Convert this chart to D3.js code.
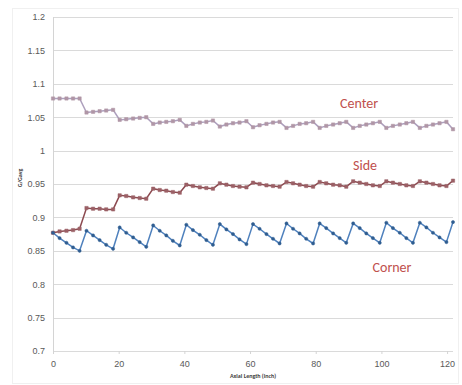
<!DOCTYPE html>
<html>
<head>
<meta charset="utf-8">
<script src="https://cdn.jsdelivr.net/npm/d3@7"></script>
<style>
  body { margin: 0; background: #fff; }
  svg { font-family: Calibri, Carlito, "Liberation Sans", Arial, sans-serif; }
</style>
</head>
<body>
<svg id="chart" width="462" height="385"></svg>
<script>
// axial positions (inch)
const axialLength = [0, 2, 4.1, 6.1, 8.1, 10.2, 12.2, 14.2, 16.2, 18.3,
  20.3, 22.3, 24.4, 26.4, 28.4, 30.5, 32.5, 34.5, 36.5, 38.6,
  40.6, 42.6, 44.7, 46.7, 48.7, 50.8, 52.8, 54.8, 56.8, 58.9,
  60.9, 62.9, 65, 67, 69, 71.1, 73.1, 75.1, 77.1, 79.2,
  81.2, 83.2, 85.3, 87.3, 89.3, 91.4, 93.4, 95.4, 97.4, 99.5,
  101.5, 103.5, 105.6, 107.6, 109.6, 111.7, 113.7, 115.7, 117.7, 119.8, 121.8];

const centerVals = [1.078, 1.078, 1.078, 1.078, 1.078,
  1.057, 1.058, 1.059, 1.060, 1.061,
  1.046, 1.047, 1.048, 1.049, 1.050,
  1.040, 1.042, 1.043, 1.044, 1.046,
  1.037, 1.040, 1.042, 1.043, 1.045,
  1.036, 1.039, 1.041, 1.042, 1.044,
  1.035, 1.038, 1.040, 1.042, 1.043,
  1.034, 1.037, 1.040, 1.041, 1.043,
  1.034, 1.037, 1.039, 1.041, 1.043,
  1.034, 1.037, 1.039, 1.041, 1.043,
  1.034, 1.037, 1.039, 1.041, 1.043,
  1.034, 1.037, 1.039, 1.041, 1.043,
  1.032];

const sideVals = [0.877, 0.879, 0.880, 0.881, 0.883,
  0.914, 0.913, 0.913, 0.912, 0.912,
  0.933, 0.932, 0.930, 0.929, 0.928,
  0.943, 0.941, 0.940, 0.938, 0.937,
  0.949, 0.947, 0.945, 0.944, 0.943,
  0.951, 0.949, 0.947, 0.946, 0.945,
  0.952, 0.950, 0.948, 0.947, 0.946,
  0.953, 0.951, 0.949, 0.947, 0.946,
  0.953, 0.951, 0.949, 0.948, 0.946,
  0.954, 0.952, 0.950, 0.948, 0.947,
  0.954, 0.952, 0.950, 0.948, 0.947,
  0.954, 0.952, 0.950, 0.948, 0.947,
  0.955];

const cornerVals = [0.877, 0.869, 0.862, 0.855, 0.850,
  0.880, 0.873, 0.866, 0.859, 0.853,
  0.885, 0.877, 0.870, 0.863, 0.856,
  0.888, 0.880, 0.873, 0.865, 0.858,
  0.889, 0.881, 0.874, 0.866, 0.859,
  0.890, 0.882, 0.875, 0.867, 0.860,
  0.890, 0.883, 0.875, 0.868, 0.861,
  0.891, 0.883, 0.876, 0.868, 0.861,
  0.891, 0.884, 0.876, 0.869, 0.862,
  0.891, 0.884, 0.876, 0.869, 0.862,
  0.892, 0.884, 0.877, 0.869, 0.862,
  0.892, 0.885, 0.877, 0.870, 0.863,
  0.893];

const xTicks = [0, 20, 40, 60, 80, 100, 120];
const yTicks = [0.7, 0.75, 0.8, 0.85, 0.9, 0.95, 1, 1.05, 1.1, 1.15, 1.2];

const seriesNames = ["Center", "Side", "Corner"];

let svg = d3.select('#chart');
let m = {left: 53, right: 9, top: 17, bottom: 34};
let w = 462 - m.left - m.right, h = 385 - m.top - m.bottom;

// outer chart border
svg.append('rect').attr('x', 12.5).attr('y', 8.5).attr('width', 446).attr('height', 375)
  .attr('fill', 'none').attr('stroke', '#f0f0f0');

let x = d3.scaleLinear().domain([0, 121.8]).range([m.left, m.left + w]);
let y = d3.scaleLinear().domain([0.7, 1.2]).range([m.top + h, m.top]);

// gridlines
svg.append('g').selectAll('line').data(yTicks).enter().append('line')
  .attr('x1', m.left).attr('x2', m.left + w)
  .attr('y1', d => Math.round(y(d)) + 0.5).attr('y2', d => Math.round(y(d)) + 0.5)
  .attr('stroke', '#dadada').attr('stroke-width', 1);

// left axis line
svg.append('line').attr('x1', m.left + 0.5).attr('x2', m.left + 0.5)
  .attr('y1', m.top).attr('y2', m.top + h).attr('stroke', '#d4d4d4');

let yAxis = svg.append('g').attr('transform', `translate(${m.left},0)`)
  .call(d3.axisLeft(y).tickValues(yTicks).tickFormat(d3.format('')).tickSize(0).tickPadding(8));
yAxis.select('.domain').remove();
yAxis.selectAll('text').attr('font-size', 9).attr('fill', '#595959');

let xAxis = svg.append('g').attr('transform', `translate(0,${m.top + h})`)
  .call(d3.axisBottom(x).tickValues(xTicks).tickSize(3).tickPadding(7));
xAxis.select('.domain').remove();
xAxis.selectAll('line').attr('stroke', '#d4d4d4');
xAxis.selectAll('text').attr('font-size', 9).attr('fill', '#595959');

// titles
svg.append('text').attr('x', 253).attr('y', 378).attr('text-anchor', 'middle')
  .attr('font-size', 6).attr('font-weight', 'bold').attr('fill', '#404040')
  .text('Axial Length (inch)');
svg.append('text').attr('transform', 'translate(22,178) rotate(-90)').attr('text-anchor', 'middle')
  .attr('font-size', 6).attr('font-weight', 'bold').attr('fill', '#404040')
  .text('G/Gavg');

let line = d3.line().x(d => x(d[0])).y(d => y(d[1]));

function drawSeries(vals, lineColor, markColor, shape, size) {
  let pts = axialLength.map((a, i) => [a, vals[i]]);
  svg.append('path').datum(pts).attr('d', line)
    .attr('fill', 'none').attr('stroke', lineColor).attr('stroke-width', 1.5);
  let sym = d3.symbol().type(shape).size(size);
  svg.append('g').selectAll('path').data(pts).enter().append('path')
    .attr('transform', d => `translate(${x(d[0])},${y(d[1])})`)
    .attr('d', sym).attr('fill', markColor).attr('stroke', markColor).attr('stroke-width', 0.5);
}

drawSeries(centerVals, '#ad9fbd', '#b096a6', d3.symbolSquare, 11);
drawSeries(sideVals, '#8c4a50', '#9b6066', d3.symbolSquare, 11);
drawSeries(cornerVals, '#4f81bd', '#2f5d90', d3.symbolCircle, 8);

// series labels
let labelPos = [[359, 108], [365, 170], [392, 272]];
svg.append('g').selectAll('text').data(seriesNames).enter().append('text')
  .attr('x', (d, i) => labelPos[i][0]).attr('y', (d, i) => labelPos[i][1])
  .attr('text-anchor', 'middle').attr('font-size', 14).attr('fill', '#c0504d')
  .text(d => d);
</script>
</body>
</html>
